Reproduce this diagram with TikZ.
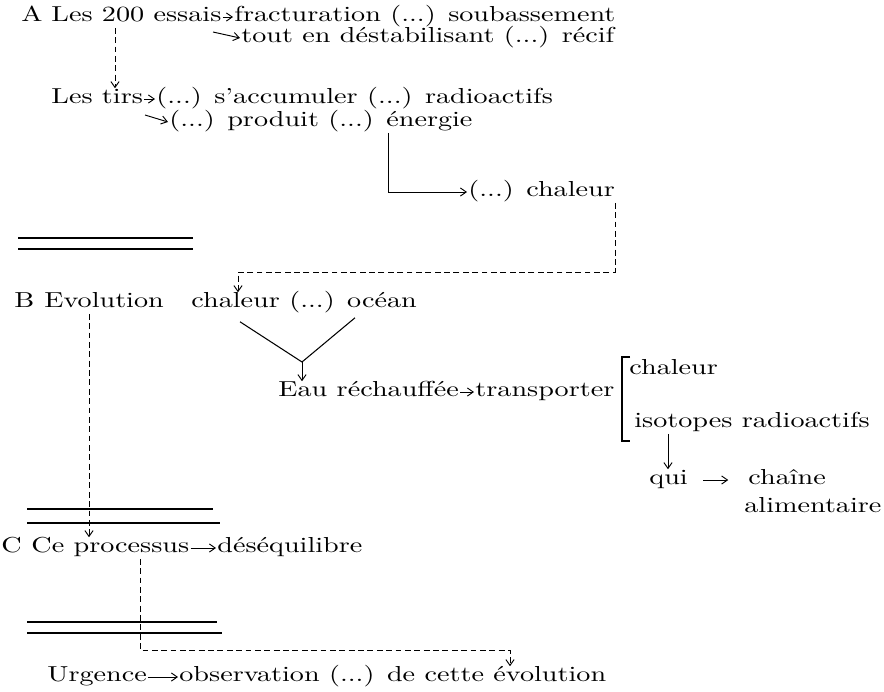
\documentclass[tikz,border=0pt]{standalone}
\usepackage{fontspec}
\setmainfont{lmroman10-regular.otf}[FakeStretch=1.3]
\usetikzlibrary{arrows.meta,calc}
\tikzset{
  txt/.style={anchor=west,inner sep=1pt,text height=12pt,text depth=4pt,font=\fontsize{18.5}{22}\selectfont},
  arr/.style={-{Straight Barb[length=5pt,width=7pt]},line width=0.8pt},
  dlink/.style={arr,dash pattern=on 5pt off 3pt},
  rule/.style={line width=0.9pt}
}
\begin{document}
\begin{tikzpicture}[x=0.03cm,y=-0.03cm]
  \path[use as bounding box,fill=white] (0,0) rectangle (884,692);

  \node[txt] (labA) at (20,17) {A};
  \node[txt] (essais) at (50,17) {Les 200 essais};
  \node[txt] (fract) at (233,17) {fracturation (...) soubassement};
  \node[txt] (tout) at (240,38) {tout en déstabilisant (...) récif};
  \coordinate (dA) at (213,32);
  \node[txt] (tirs) at (50,99) {Les tirs};
  \node[txt] (accum) at (155,99) {(...) s'accumuler (...) radioactifs};
  \node[txt] (prod) at (168,122) {(...) produit (...) énergie};
  \coordinate (dB) at (145,115);
  \node[txt] (chalA) at (467,192) {(...) chaleur};

  \node[txt] (labB) at (13,303) {B};
  \node[txt] (evol) at (43,303) {Evolution};
  \node[txt] (chalB) at (190,303) {chaleur (...) océan};
  \coordinate (vmeet) at (302,362);
  \node[txt] (eau) at (277,392) {Eau réchauffée};
  \node[txt] (transp) at (474,392) {transporter};
  \node[txt] (chalC) at (628,370) {chaleur};
  \node[txt] (iso) at (633,423) {isotopes radioactifs};
  \node[txt] (qui) at (648,480) {qui};
  \node[txt] (chaine) at (747,480) {chaîne};
  \node[txt] (alim) at (743,508) {alimentaire};

  \node[txt] (labC) at (0,548) {C};
  \node[txt] (proc) at (30,548) {Ce processus};
  \node[txt] (deseq) at (216,548) {déséquilibre};
  \node[txt] (urg) at (46,677) {Urgence};
  \node[txt] (obs) at (178,677) {observation (...) de cette évolution};

  \coordinate (x200) at (115,0);
  \coordinate (xel) at (388,0);
  \coordinate (xch) at (615,0);
  \coordinate (xcb) at (238,272);
  \coordinate (xq) at (668,0);
  \coordinate (xev) at (89,0);
  \coordinate (xpr) at (140,0);
  \coordinate (xob) at (510,650);

  \draw[arr] (essais) -- (fract);
  \draw[arr] (dA) -- (tout.west);
  \draw[dlink] (x200 |- essais.south) -- (x200 |- tirs.north);
  \draw[arr] (tirs) -- (accum);
  \draw[arr] (dB) -- (prod.west);
  \draw[arr] (xel |- prod.south) |- (chalA.west);
  \draw[dlink] (xch |- chalA.south) |- (xcb) -- (xcb |- chalB.north);
  \draw[rule] (18,238) -- (193,238) (18,249) -- (193,249);

  \draw[rule] ($(chalB.south west)+(50,8)$) -- (vmeet) -- ($(chalB.south west)+(165,4)$);
  \draw[arr] (vmeet) -- (vmeet |- eau.north);
  \draw[arr] (eau) -- (transp);
  \draw[rule] (630,357) -- (622,357) -- (622,441) -- (630,441);
  \draw[arr] (xq |- iso.south) -- (xq |- qui.north);
  \draw[arr,shorten <=12pt,shorten >=16pt] (qui) -- (chaine);
  \draw[rule] (27,509) -- (213,509) (27,523) -- (220,523);
  \draw[dlink] (xev |- evol.south) -- (xev |- proc.north);

  \draw[arr] (proc) -- (deseq);
  \draw[rule] (27,622) -- (217,622) (27,633) -- (222,633);
  \draw[dlink] (xpr |- proc.south) |- (xob) -- (xob |- obs.north);
  \draw[arr] (urg) -- (obs);
\end{tikzpicture}
\end{document}
